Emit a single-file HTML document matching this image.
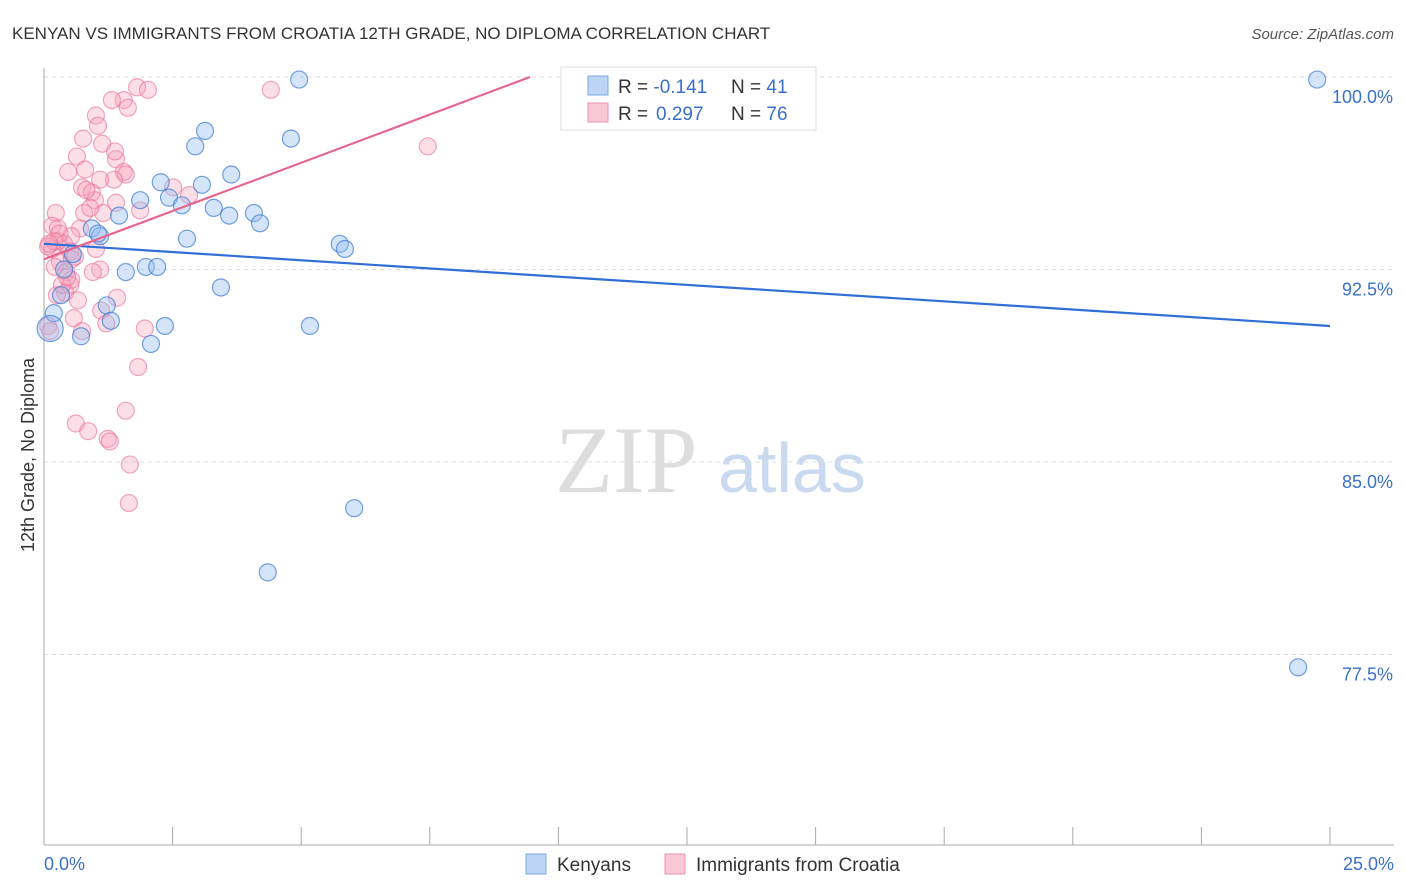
<!DOCTYPE html>
<html><head><meta charset="utf-8"><style>
body{margin:0;background:#fff;font-family:"Liberation Sans",sans-serif;}
#wrap{position:relative;width:1406px;height:892px;overflow:hidden;}
svg{position:absolute;left:0;top:0;}
</style></head><body>
<div id="wrap">
<svg id="chart" width="1406" height="892">
<text x="12" y="39" font-size="17" fill="#333">KENYAN VS IMMIGRANTS FROM CROATIA 12TH GRADE, NO DIPLOMA CORRELATION CHART</text>
<text x="1394" y="39" font-size="15" fill="#555" font-style="italic" text-anchor="end">Source: ZipAtlas.com</text>
<text x="555" y="492" font-size="95" fill="#ddd" font-family="Liberation Serif,serif">ZIP</text>
<text x="718" y="492" font-size="70" fill="#c9daf0">atlas</text>
<text transform="translate(34,455) rotate(-90)" font-size="18" fill="#333" text-anchor="middle">12th Grade, No Diploma</text>
<g id="grid"></g><g id="axes"></g><g id="pts"></g><g id="lines"></g>
<g>
<rect x="561" y="67" width="255" height="63" fill="#fff" stroke="#ddd"/>
<rect x="588" y="76" width="20" height="19" fill="#bcd5f5" stroke="#7aa7e0"/>
<rect x="588" y="103" width="20" height="19" fill="#f9c6d5" stroke="#eb94ae"/>
<text x="618" y="93" font-size="19" fill="#333">R = <tspan fill="#3b70c9">-0.141</tspan><tspan x="731">N = </tspan><tspan fill="#3b70c9">41</tspan></text>
<text x="618" y="120" font-size="19" fill="#333">R = <tspan fill="#3b70c9" x="656">0.297</tspan><tspan x="731">N = </tspan><tspan fill="#3b70c9">76</tspan></text>
</g>
<g>
<rect x="526" y="854" width="20" height="20" fill="#bcd5f5" stroke="#7aa7e0"/>
<text x="557" y="871" font-size="19" fill="#333">Kenyans</text>
<rect x="665" y="854" width="20" height="20" fill="#f9c6d5" stroke="#eb94ae"/>
<text x="696" y="871" font-size="19" fill="#333">Immigrants from Croatia</text>
</g>
</svg>
</div>
<script>
const xTicks=[0,2.5,5,7.5,10,12.5,15,17.5,20,22.5,25];
const yTicks=[100,92.5,85,77.5];
const yTickLabels=["100.0%","92.5%","85.0%","77.5%"];
const blueX=[4.96,24.75,3.13,2.94,4.8,3.64,2.27,3.07,1.87,2.43,2.68,3.3,3.6,4.08,4.2,1.46,0.93,2.78,1.09,5.75,5.85,0.56,1.59,1.98,2.2,3.44,0.33,1.22,0.19,1.3,2.35,5.17,0.12,0.72,2.08,6.03,4.35,24.38,0.39,1.05];
const blueY=[99.9,99.9,97.9,97.3,97.6,96.2,95.9,95.8,95.2,95.3,95.0,94.9,94.6,94.7,94.3,94.6,94.1,93.7,93.8,93.5,93.3,93.1,92.4,92.6,92.6,91.8,91.5,91.1,90.8,90.5,90.3,90.3,90.2,89.9,89.6,83.2,80.7,77.0,92.5,93.9];
const pinkX=[1.81,2.02,4.41,1.55,1.32,1.63,1.01,1.05,0.76,1.13,0.64,1.4,0.47,0.8,1.55,1.59,1.36,0.74,0.93,2.51,2.82,0.99,1.4,1.15,1.87,0.23,0.78,0.7,0.16,0.53,0.27,0.39,0.16,0.08,0.51,0.31,0.21,0.43,0.53,1.09,0.95,0.51,0.41,0.66,1.42,1.11,0.58,1.21,1.96,0.74,0.08,0.12,1.83,1.59,0.62,0.86,1.24,1.28,1.67,1.65,7.46,10.36,0.25,0.35,0.54,1.01,0.27,0.82,1.09,1.38,0.3,0.6,0.2,0.9,0.1,0.45];
const pinkY=[99.6,99.5,99.5,99.1,99.1,98.8,98.5,98.1,97.6,97.4,96.9,96.8,96.3,96.4,96.3,96.2,96.0,95.7,95.5,95.7,95.4,95.2,95.1,94.7,94.8,94.7,94.7,94.1,94.2,93.8,93.6,93.5,93.3,93.4,93.2,92.8,92.6,92.4,92.1,92.5,92.4,91.9,91.6,91.3,91.4,90.9,90.6,90.4,90.2,90.1,90.3,90.1,88.7,87.0,86.5,86.2,85.9,85.8,84.9,83.4,97.3,99.9,91.5,91.9,92.9,93.3,94.1,95.6,96.0,97.1,93.9,93.0,93.6,94.9,93.5,92.2];
const blueLine=[93.5,90.3];
const pinkLine=[92.9,100.0];
const X=v=>44+v/25*1286, Y=v=>77+(100-v)/7.5*192.5;
const NS="http://www.w3.org/2000/svg";
function mk(t,a,p){const e=document.createElementNS(NS,t);for(const k in a)e.setAttribute(k,a[k]);p.appendChild(e);return e;}
const g=document.getElementById('grid'),ax=document.getElementById('axes'),pts=document.getElementById('pts'),ln=document.getElementById('lines');
yTicks.forEach((v,i)=>{
 const l=mk('line',{x1:44,x2:1394,y1:Y(v),y2:Y(v),stroke:'#ddd','stroke-dasharray':'4,4'},g);
 
 
 const t=mk('text',{x:1393,y:Y(v)+26,'font-size':18,fill:'#3b70c9','text-anchor':'end'},ax);
 t.textContent=yTickLabels[i];
 
 
});
const a1=mk('line',{x1:44,x2:44,y1:68,y2:845,stroke:'#aaa'},ax);


const a2=mk('line',{x1:44,x2:1394,y1:845,y2:845,stroke:'#aaa'},ax);


xTicks.forEach(v=>{
 const l=mk('line',{x1:X(v),x2:X(v),y1:827,y2:845,stroke:'#aaa'},ax);
 
 
});
[[0,'0.0%','start',44],[25,'25.0%','end',1394]].forEach(d=>{
 const t=mk('text',{x:d[3],y:870,'font-size':18,fill:'#3b70c9','text-anchor':d[2]},ax);
 t.textContent=d[1];
 
 
});
pinkX.forEach((x,i)=>{
 const c=mk('circle',{cx:X(x),cy:Y(pinkY[i]),r:8.5,fill:'rgba(246,160,186,0.35)',stroke:'rgba(232,110,150,0.6)','stroke-width':1.2},pts);
 
 
});
blueX.forEach((x,i)=>{
 const c=mk('circle',{cx:X(x),cy:Y(blueY[i]),r:i==32?13:8.5,fill:'rgba(150,190,240,0.4)',stroke:'rgba(60,120,210,0.7)','stroke-width':1.2},pts);
 
 
});
const bl=mk('line',{x1:X(0),y1:Y(blueLine[0]),x2:X(25),y2:Y(blueLine[1]),stroke:'#2f6fd6','stroke-width':2.2},ln);


const pl=mk('line',{x1:X(0),y1:Y(pinkLine[0]),x2:530,y2:Y(pinkLine[1]),stroke:'#e8648e','stroke-width':2.2},ln);


</script>
</body></html>
